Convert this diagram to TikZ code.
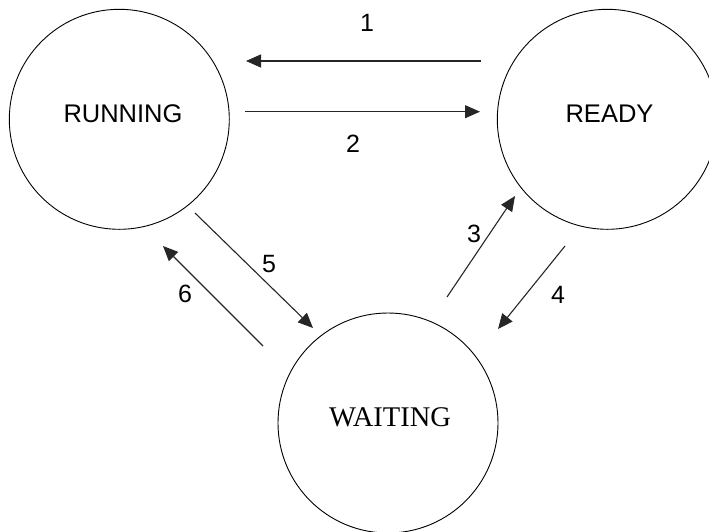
\documentclass[tikz,border=0pt]{standalone}
\usepackage{fontspec}
\setmainfont{Liberation Sans}
\newfontfamily\serifface{Liberation Serif}
\usetikzlibrary{arrows.meta}
\begin{document}
\begin{tikzpicture}[x=1pt,y=-1pt,
  state/.style={draw=black,line width=0.9pt,circle,minimum size=220pt,inner sep=0pt},
  sans/.style={font=\fontsize{25.5}{28}\selectfont,anchor=base,inner sep=0pt},
  serif/.style={font=\serifface\fontsize{28.5}{32}\selectfont,anchor=base,inner sep=0pt},
  num/.style={font=\fontsize{25}{28}\selectfont,anchor=base,inner sep=0pt},
  trans/.style={draw=black!85,line width=1.1pt,-{Triangle[length=15pt,width=13pt]}}]
\useasboundingbox (0,0) rectangle (709,531);
\clip (0,0) rectangle (709,531);

% states
\node[state] (run)   at (119.3,119.3) {};
\node[state] (ready) at (607.3,119.3) {};
\node[state] (wait)  at (388,423) {};

\node[sans]  (trun)   at (123,122)   {RUNNING};
\node[sans]  (tready) at (609.5,122) {READY};
\node[serif] (twait)  at (390,426)   {WAITING};

% end points of the transitions
\coordinate (a1s) at (481,61);   \coordinate (a1e) at (246,61);
\coordinate (a2s) at (245,111.7);\coordinate (a2e) at (480,111.7);
\coordinate (a3s) at (447,297);  \coordinate (a3e) at (515,196);
\coordinate (a4s) at (565,246);  \coordinate (a4e) at (498,329);
\coordinate (a5s) at (195,213);  \coordinate (a5e) at (313,328);
\coordinate (a6s) at (263,346);  \coordinate (a6e) at (163,246);

\draw[trans] (a1s) -- (a1e);
\draw[trans] (a2s) -- (a2e);
\draw[trans] (a3s) -- (a3e);
\draw[trans] (a4s) -- (a4e);
\draw[trans] (a5s) -- (a5e);
\draw[trans] (a6s) -- (a6e);

% transition numbers
\node[num] (l1) at (367,31)  {1};
\node[num] (l2) at (353,152) {2};
\node[num] (l3) at (474,242) {3};
\node[num] (l4) at (558,303) {4};
\node[num] (l5) at (269,272) {5};
\node[num] (l6) at (185,302) {6};
\end{tikzpicture}
\end{document}
